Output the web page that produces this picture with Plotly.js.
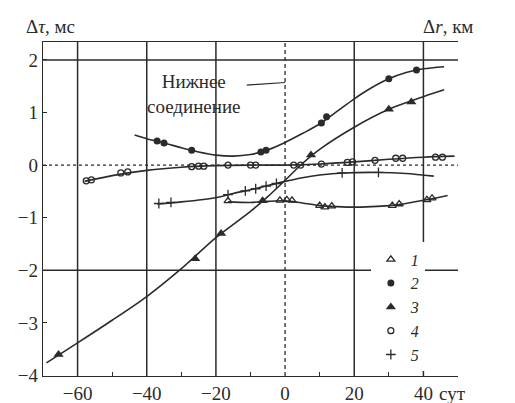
<!DOCTYPE html>
<html>
<head>
<meta charset="utf-8">
<script src="https://cdn.plot.ly/plotly-3.0.1.min.js"></script>
<style>
  body { margin: 0; background: #fff; }
  #chart { width: 515px; height: 403px; }
  #chart svg text { font-family: 'Liberation Serif', serif !important; }
</style>
</head>
<body>
<div id="chart"></div>
<script>
// Time offsets, days from inferior conjunction
// Series 1: open triangles
const s1CurveX = [-16.5, -10, -5, 0, 5, 10, 15, 20, 25, 30, 35, 40, 44, 47];
const s1CurveY = [-0.70, -0.71, -0.69, -0.68, -0.72, -0.77, -0.79, -0.80, -0.79, -0.77, -0.73, -0.67, -0.62, -0.58];
const s1PtsX = [-16.5, -1.5, 0.5, 2, 10, 11.5, 13.5, 31, 33, 41, 42.5];
const s1PtsY = [-0.68, -0.67, -0.66, -0.67, -0.77, -0.80, -0.78, -0.77, -0.74, -0.66, -0.63];

// Series 2: filled circles
const s2CurveX = [-43.5, -40, -35, -30, -25, -20, -15, -10, -5, 0, 5, 10, 15, 20, 25, 30, 35, 40, 46];
const s2CurveY = [0.57, 0.50, 0.42, 0.33, 0.25, 0.19, 0.17, 0.20, 0.29, 0.43, 0.60, 0.78, 1.02, 1.26, 1.47, 1.64, 1.76, 1.83, 1.87];
const s2PtsX = [-37, -35, -27, -7, -5.5, 10.5, 12, 30, 38];
const s2PtsY = [0.46, 0.42, 0.28, 0.25, 0.28, 0.80, 0.92, 1.64, 1.81];

// Series 3: filled triangles
const s3CurveX = [-69, -60, -50, -40, -30, -20, -10, -5, 0, 5, 10, 20, 30, 40, 46];
const s3CurveY = [-3.76, -3.38, -2.95, -2.50, -1.97, -1.38, -0.88, -0.60, -0.29, 0.03, 0.30, 0.72, 1.06, 1.30, 1.43];
const s3PtsX = [-65.5, -26, -18.5, -6.5, 7.5, 30, 36.5];
const s3PtsY = [-3.60, -1.78, -1.30, -0.68, 0.19, 1.06, 1.20];

// Series 4: open circles
const s4CurveX = [-58, -50, -40, -30, -20, -10, 0, 10, 20, 30, 40, 49];
const s4CurveY = [-0.31, -0.20, -0.10, -0.04, -0.01, 0.00, 0.00, 0.02, 0.06, 0.11, 0.15, 0.17];
const s4PtsX = [-57.5, -56, -47.5, -45.5, -27, -25, -23.5, -16.5, -10, -8.5, 2.5, 4.5, 10.5, 18, 19.5, 26, 32, 34, 43.5, 45.5];
const s4PtsY = [-0.30, -0.28, -0.15, -0.13, -0.03, -0.02, -0.02, 0.00, 0.00, 0.00, 0.00, 0.00, 0.02, 0.05, 0.06, 0.09, 0.13, 0.13, 0.15, 0.15];

// Series 5: crosses
const s5CurveX = [-37, -30, -20, -15, -10, -5, 0, 5, 10, 17, 27, 35, 43];
const s5CurveY = [-0.74, -0.70, -0.62, -0.54, -0.47, -0.39, -0.31, -0.24, -0.19, -0.15, -0.14, -0.16, -0.21];
const s5PtsX = [-36.5, -33, -16.5, -11.5, -8.5, -5.5, -2.5, 16.5, 27];
const s5PtsY = [-0.73, -0.71, -0.56, -0.49, -0.45, -0.40, -0.35, -0.15, -0.14];

// Axis ticks
const xTicks = [-60, -40, -20, 0, 20, 40];
const xMinor = [-50, -30, -10, 10, 30];
const yTicks = [-4, -3, -2, -1, 0, 1, 2];
const rTicks = [-600, -450, -300, -150, 0, 150, 300];
const kmPerMs = 150;
const gridX = [-60, -40, -20, 20, 40];
const gridY = [2, -2];

const ink = '#2b2b2b';
const serif = 'Liberation Serif';
const yRange = [-4.01, 2.34];

function curve(x, y) {
  return { x, y, mode: 'lines', type: 'scatter', showlegend: false, hoverinfo: 'skip',
           line: { color: ink, width: 1.6, shape: 'spline', smoothing: 0.8 } };
}
function pts(x, y, name, marker) {
  return { x, y, mode: 'markers', type: 'scatter', name, marker };
}

const data = [
  curve(s1CurveX, s1CurveY), curve(s2CurveX, s2CurveY), curve(s3CurveX, s3CurveY),
  curve(s4CurveX, s4CurveY), curve(s5CurveX, s5CurveY),
  pts(s1PtsX, s1PtsY, '<i>1</i>', { symbol: 'triangle-up-open', size: 7, color: ink, line: { width: 1.3 } }),
  pts(s2PtsX, s2PtsY, '<i>2</i>', { symbol: 'circle', size: 7, color: ink }),
  pts(s3PtsX, s3PtsY, '<i>3</i>', { symbol: 'triangle-up', size: 9, color: ink }),
  pts(s4PtsX, s4PtsY, '<i>4</i>', { symbol: 'circle-open', size: 6, color: ink, line: { width: 1.3 } }),
  pts(s5PtsX, s5PtsY, '<i>5</i>', { symbol: 'cross-thin-open', size: 7, color: ink, line: { width: 1.3, color: ink } })
];

const shapes = [];
gridX.forEach(v => shapes.push({ type: 'line', xref: 'x', yref: 'paper', x0: v, x1: v, y0: 0, y1: 1,
  layer: 'below', line: { color: ink, width: 1.5 } }));
gridY.forEach(v => shapes.push({ type: 'line', xref: 'paper', yref: 'y', x0: 0, x1: 1, y0: v, y1: v,
  layer: 'below', line: { color: ink, width: 1.5 } }));
shapes.push({ type: 'line', xref: 'x', yref: 'paper', x0: 0, x1: 0, y0: 0, y1: 1,
  layer: 'below', line: { color: ink, width: 1.3, dash: '4px,3px' } });
shapes.push({ type: 'line', xref: 'paper', yref: 'y', x0: 0, x1: 1, y0: 0, y1: 0,
  layer: 'below', line: { color: ink, width: 1.3, dash: 'dot' } });

const tickFont = { family: serif, size: 19, color: ink };

const layout = {
  width: 515, height: 403,
  margin: { l: 43, r: 57, t: 42, b: 27 },
  paper_bgcolor: '#fff', plot_bgcolor: '#fff',
  font: { family: serif, color: ink },
  showlegend: true,
  legend: { x: 0.79, y: 0.40, xanchor: 'left', yanchor: 'top', bgcolor: '#fff',
            font: { family: serif, size: 16, color: ink }, tracegroupgap: 0 },
  xaxis: { range: [-70, 50], tickvals: xTicks, ticks: '', showgrid: false, zeroline: false,
           showline: true, mirror: true, linecolor: ink, linewidth: 1.2, tickfont: tickFont,
           minor: { tickvals: xMinor, ticks: 'inside', ticklen: 4, tickcolor: ink } },
  yaxis: { range: yRange, tickvals: yTicks, ticks: 'inside', ticklen: 4, tickcolor: ink,
           showgrid: false, zeroline: false, showline: true, linecolor: ink, linewidth: 1.2,
           tickfont: tickFont },
  yaxis2: { overlaying: 'y', side: 'right', range: yRange.map(v => v * kmPerMs), tickvals: rTicks,
            ticks: 'inside', ticklen: 4, tickcolor: ink, showgrid: false, zeroline: false,
            showline: true, linecolor: ink, linewidth: 1.2, tickfont: tickFont },
  shapes,
  annotations: [
    { xref: 'paper', yref: 'paper', x: -0.045, y: 1.045, xanchor: 'left', yanchor: 'middle',
      text: 'Δ<i>τ</i>, мс', showarrow: false, font: { family: serif, size: 19, color: ink } },
    { xref: 'paper', yref: 'paper', x: 0.911, y: 1.045, xanchor: 'left', yanchor: 'middle',
      text: 'Δ<i>r</i>, км', showarrow: false, font: { family: serif, size: 19, color: ink } },
    { xref: 'paper', yref: 'paper', x: 0.949, y: -0.051, xanchor: 'left', yanchor: 'middle',
      text: 'сут', showarrow: false, font: { family: serif, size: 19, color: ink } },
    { xref: 'x', yref: 'y', x: -26.4, y: 1.35, xanchor: 'center', yanchor: 'middle',
      text: 'Нижнее<br>соединение', showarrow: false, font: { family: serif, size: 19, color: ink } },
    { xref: 'x', yref: 'y', x: 0, y: 1.57, axref: 'x', ayref: 'y', ax: -11.5, ay: 1.52,
      text: '', showarrow: true, arrowhead: 0, arrowwidth: 1.2, arrowcolor: ink }
  ]
};

Plotly.newPlot('chart', data, layout, { staticPlot: true, displayModeBar: false });
</script>
</body>
</html>
